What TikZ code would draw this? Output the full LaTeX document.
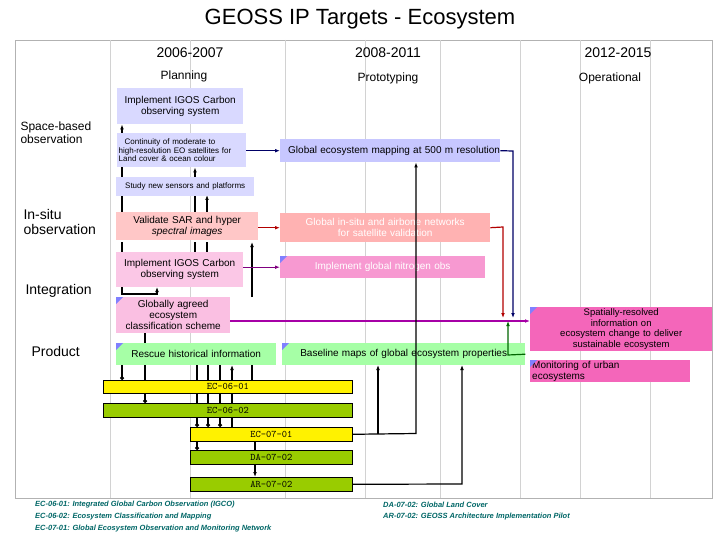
\documentclass[tikz,border=0pt]{standalone}
\usepackage{fontspec}
\setmainfont{Liberation Sans}
\usetikzlibrary{arrows.meta}
\pgfdeclarelayer{bg}\pgfsetlayers{bg,main}
\definecolor{olv}{RGB}{153,204,0}
\begin{document}
\begin{tikzpicture}[x=1pt,y=-1pt,
  bx/.style={anchor=north west,inner sep=0pt,align=center,font=\fontsize{10}{11}\selectfont},
  ec/.style={bx,draw=black,line width=0.6pt,font=\ttfamily\fontsize{10}{11}\selectfont},
  lab/.style={font=\fontsize{12}{13}\selectfont},
  hd/.style={font=\fontsize{14}{15}\selectfont},
  nt/.style={anchor=west,text=teal!80!black,font=\itshape\bfseries\fontsize{7.5}{8}\selectfont,inner sep=0pt},
  cn/.style={line width=1.2pt},
  ar/.style={-{Latex[length=5pt]},line width=1.2pt},
  dot/.style={{Circle[length=4pt]}-,line width=1.2pt},
  grid/.style={gray!35,line width=0.5pt}]
\useasboundingbox (0,0) rectangle (720,540);
% grid
\draw[gray!60] (15,40) rectangle (712,498);
\foreach \xx in {110,190,285,365,440,520,580,650} \draw[grid] (\xx,40) -- (\xx,498);
\node[font=\fontsize{22}{26}\selectfont] (title) at (360,19) {GEOSS IP Targets - Ecosystem};
\node[hd] (y1) at (190,53) {2006-2007};
\node[hd] (y2) at (388,53) {2008-2011};
\node[hd] (y3) at (618,53) {2012-2015};
\node[lab] (p1) at (184,76) {Planning};
\node[lab] (p2) at (388,78) {Prototyping};
\node[lab] (p3) at (610,78) {Operational};
\node[lab,align=left,anchor=west] (r1) at (17,133) {Space-based\\observation};
\node[hd,align=left,anchor=west] (r2) at (20,222) {In-situ\\observation};
\node[hd,anchor=west] (r3) at (22,291) {Integration};
\node[hd,anchor=west] (r4) at (28,351) {Product};
% boxes
\node[bx,fill=blue!15,minimum width=126,minimum height=36,text width=126] (igos1) at (117,88) {Implement IGOS Carbon\\observing system};
\node[bx,fill=blue!15,minimum width=129,minimum height=34,text width=126,align=left,font=\fontsize{8}{8.5}\selectfont] (cont) at (117,133) {\hspace*{6pt}Continuity of moderate to\\ high-resolution EO satellites for\\ Land cover \& ocean colour};
\node[bx,fill=blue!22,minimum width=220,minimum height=23,text width=220,align=left] (gmap) at (280,139) {\hspace*{8pt}Global ecosystem mapping at 500 m resolution};
\node[bx,fill=blue!15,minimum width=138,minimum height=19,text width=138,font=\fontsize{8}{9}\selectfont] (study) at (116,177) {Study new sensors and platforms};
\node[bx,fill=red!22,minimum width=142,minimum height=28,text width=142] (sar) at (116,212) {Validate SAR and hyper\\ \textit{spectral images}};
\node[bx,fill=red!30,minimum width=210,minimum height=29,text width=210,text=white] (insitu) at (280,213) {Global in-situ and airbone networks\\for satellite validation};
\node[bx,fill=magenta!22,minimum width=127,minimum height=35,text width=127] (igos2) at (116,252) {Implement IGOS Carbon\\observing system};
\node[bx,fill=magenta!40,minimum width=205,minimum height=22,text width=205,text=white] (nitro) at (280,256) {Implement global nitrogen obs};
\node[bx,fill=magenta!25,minimum width=114,minimum height=36,text width=114] (agreed) at (116,297) {Globally agreed\\ecosystem\\classification scheme};
\node[bx,fill=green!35,minimum width=160,minimum height=22,text width=160] (rescue) at (116,343) {Rescue historical information};
\node[bx,fill=green!35,minimum width=243,minimum height=22,text width=243] (base) at (282,343) {Baseline maps of global ecosystem properties};
\node[bx,fill=magenta!60,minimum width=182,minimum height=44,text width=182,font=\fontsize{9.5}{10.5}\selectfont] (spat) at (530,307) {Spatially-resolved\\information on\\ecosystem change to deliver\\sustainable ecosystem};
\node[bx,fill=magenta!60,minimum width=160,minimum height=22,text width=160,align=left] (urban) at (530,360) {\hspace*{2pt}Monitoring of urban\\\hspace*{2pt}ecosystems};
\foreach \n in {nitro,agreed,rescue,base,spat,urban}
  \fill[blue!50!white] (\n.north west) -- ++(7,0) -- ++(-7,7) -- cycle;
\node[ec,fill=yellow,minimum width=249,minimum height=13] (e1) at (103,380) {EC-06-01};
\node[ec,fill=olv,minimum width=249,minimum height=14] (e2) at (103,403) {EC-06-02};
\node[ec,fill=yellow,minimum width=162,minimum height=14] (e3) at (190,427) {EC-07-01};
\node[ec,fill=olv,minimum width=162,minimum height=14] (e4) at (190,450) {DA-07-02};
\node[ec,fill=olv,minimum width=162,minimum height=14] (e5) at (190,477) {AR-07-02};
% colored connectors
\draw[ar,blue!40!black] (cont.east |- gmap.west) -- (gmap.west);
\draw[ar,blue!40!black] (gmap.east) -- (513,151) -- (513,318);
\draw[ar,red!70!black] (sar.east |- insitu.west) -- (insitu.west);
\draw[ar,red!70!black] (insitu.east) -- (503,227) -- (503,318);
\draw[ar,violet] (igos2.east |- nitro.west) -- (nitro.west);
\draw[ar,violet!70!magenta] (agreed.east |- 0,321) -- (spat.west |- 0,321);
\draw[ar,green!40!black] (base.east) -- (508,355) -- (508,321);
% black connectors
\begin{pgfonlayer}{bg}
\draw[ar] (122,133) -- (igos1.south -| 122,0);
\draw[ar] (195,177) -- (cont.south -| 195,0);
\draw[cn] (122,167) -- (122,212);
\draw[cn] (122,242) -- (122,252);
\draw[dot] (122,380) -- (122,365);
\draw[ar] (122,287) -- (122,294) -- (157,294) -- (157,287);
\draw[dot] (145,403) -- (145,333);
\draw[cn] (195,195) -- (195,212);
\draw[ar] (207,212) -- (207,195);
\draw[cn] (195,242) -- (195,252);\draw[cn] (207,242) -- (207,252);
\draw[ar] (252,297) -- (252,242);
\draw[dot] (197,427) -- (197,365);
\draw[dot] (208,427) -- (208,365);
\draw[dot] (220,427) -- (220,365);
\draw[ar] (232,427) -- (232,365);
\draw[dot] (197,450) -- (197,441);
\draw[cn] (255,441) -- (255,450);\draw[ar] (255,464) -- (255,477);
\draw[cn] (252,365) -- (252,380);
\end{pgfonlayer}
\draw[ar] (e3.east) -- (416,433.5) -- (gmap.south -| 416,0);
\draw[ar] (378,433.5) -- (378,365);
\draw[ar] (e5.east) -- (462,484) -- (462,365);
% notes
\node[nt] (n1) at (35,505) {EC-06-01: Integrated Global Carbon Observation (IGCO)};
\node[nt] (n2) at (35,517) {EC-06-02: Ecosystem Classification and Mapping};
\node[nt] (n3) at (35,529) {EC-07-01: Global Ecosystem Observation and Monitoring Network};
\node[nt] (n4) at (383,505) {DA-07-02: Global Land Cover};
\node[nt] (n5) at (383,517) {AR-07-02: GEOSS Architecture Implementation Pilot};
\end{tikzpicture}
\end{document}
